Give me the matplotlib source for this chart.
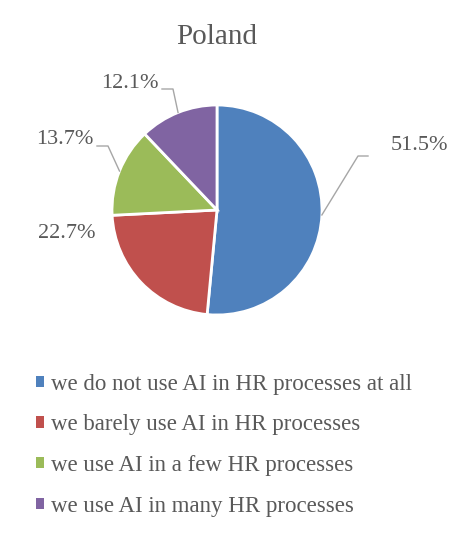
import numpy as np
import matplotlib
matplotlib.use("Agg")
import matplotlib.pyplot as plt

title = "Poland"
categories = ["we do not use AI in HR processes at all",
              "we barely use AI in HR processes",
              "we use AI in a few HR processes",
              "we use AI in many HR processes"]
shares = [51.5, 22.7, 13.7, 12.1]
colors = ["#4F81BD", "#C0504D", "#9BBB59", "#8064A2"]

# layout (pixels from top-left of the 460x533 canvas)
W, H = 460, 533
cx, cy, r = 217, 210, 105
label_pos = [(391, 145), (96, 233), (93, 140), (159, 83)]
label_ha = ["left", "right", "right", "right"]
# leader elbows: (elbow point, end point) or None
leaders = [((358, 156), (368, 156)), None, ((108, 146), (97, 146)), ((173, 89), (162, 89))]

txt = "#595959"
plt.rcParams['font.family'] = ['Liberation Serif', 'DejaVu Serif']

fig = plt.figure(figsize=(W / 100, H / 100), dpi=100)
ax = fig.add_axes([0, 0, 1, 1])
ax.set_xlim(0, W)
ax.set_ylim(0, H)
ax.set_aspect('equal')
ax.axis('off')

wedges, _ = ax.pie(shares, colors=colors, startangle=90, counterclock=False,
                   center=(cx, H - cy), radius=r,
                   wedgeprops=dict(edgecolor='white', linewidth=2))
ax.set_xlim(0, W)
ax.set_ylim(0, H)

for i, w in enumerate(wedges):
    mid = np.deg2rad((w.theta1 + w.theta2) / 2)
    ex = cx + r * np.cos(mid)
    ey = (H - cy) + r * np.sin(mid)
    lx, ly = label_pos[i]
    ax.text(lx, H - ly, "%.1f%%" % shares[i], ha=label_ha[i], va='center',
            fontsize=16, color=txt)
    if leaders[i] is not None:
        (bx, by), (tx, ty) = leaders[i]
        ax.plot([ex, bx, tx], [ey, H - by, H - ty], color="#A6A6A6", lw=1)

ax.text(cx, H - 37, title, ha='center', va='center', fontsize=21, color=txt)

leg = ax.legend(wedges, categories, loc='upper left',
                bbox_to_anchor=(15 / W, 1 - 353 / H), bbox_transform=fig.transFigure,
                frameon=False, fontsize=16.5, labelcolor=txt,
                handlelength=0.38, handleheight=0.38, handletextpad=0.3,
                labelspacing=0.86)
for h in leg.legend_handles:
    h.set_edgecolor('none')

fig.savefig("out.png", dpi=100)
